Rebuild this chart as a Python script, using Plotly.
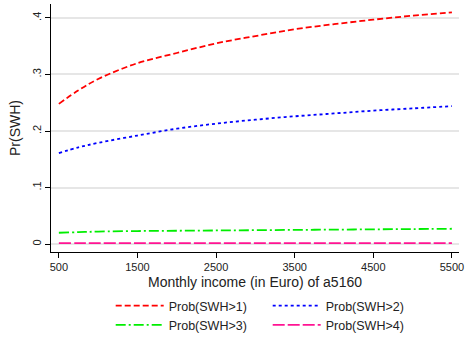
import plotly.graph_objects as go

income = [500, 750, 1000, 1500, 2000, 2500, 3000, 3500, 4000, 4500, 5000, 5500]
p1 = [0.248, 0.272, 0.292, 0.320, 0.338, 0.355, 0.368, 0.380, 0.389, 0.397, 0.404, 0.410]
p2 = [0.161, 0.171, 0.179, 0.192, 0.204, 0.213, 0.220, 0.226, 0.231, 0.236, 0.240, 0.244]
p3 = [0.020, 0.021, 0.022, 0.023, 0.0235, 0.024, 0.0245, 0.025, 0.0255, 0.026, 0.0265, 0.027]
p4 = [0.0015] * len(income)

names = ["Prob(SWH>1)", "Prob(SWH>2)", "Prob(SWH>3)", "Prob(SWH>4)"]
xticks = [500, 1500, 2500, 3500, 4500, 5500]
yticks = [0, 0.1, 0.2, 0.3, 0.4]
yticklabels = ["0", ".1", ".2", ".3", ".4"]

styles = [("#FF0000", "6px,3px"), ("#0000FF", "dot"), ("#00EE00", "10px,3px,2px,3px"), ("#FF1493", "12px,3px")]

fig = go.Figure()
for ys, name, (c, d) in zip([p1, p2, p3, p4], names, styles):
    fig.add_trace(go.Scatter(x=income, y=ys, mode="lines", name=name,
                             line=dict(color=c, dash=d, width=1.8, shape="spline")))

fig.update_layout(
    width=468, height=340,
    margin=dict(l=51, r=6, t=4, b=87),
    paper_bgcolor="white", plot_bgcolor="white",
    font=dict(family="Liberation Sans, Arial", size=12, color="#222"),
    showlegend=True,
    legend=dict(orientation="h", x=0.572, xanchor="center", xref="container",
                y=-0.027, yanchor="bottom", yref="container",
                entrywidth=94, itemwidth=48, font=dict(size=12.5), tracegroupgap=0,
                traceorder="normal"),
    xaxis=dict(range=[400, 5590], tickvals=xticks, showgrid=False, zeroline=False,
               showline=True, linecolor="black", linewidth=1, ticks="outside", ticklen=5,
               tickcolor="black", tickfont=dict(size=11), ticklabeloverflow="allow",
               title=dict(text="Monthly income (in Euro) of a5160", font=dict(size=14), standoff=4)),
    yaxis=dict(range=[-0.0141, 0.4247], tickvals=yticks, ticktext=yticklabels, tickangle=-90,
               showgrid=True, gridcolor="#E6E6E6", gridwidth=1.5, zeroline=False,
               showline=True, linecolor="black", linewidth=1, ticks="outside", ticklen=5,
               tickcolor="black", tickfont=dict(size=11),
               title=dict(text="Pr(SWH)", font=dict(size=14), standoff=6)),
)

fig.write_html("out.html", config={"displayModeBar": False},
               post_script="document.body.style.margin='0';")
